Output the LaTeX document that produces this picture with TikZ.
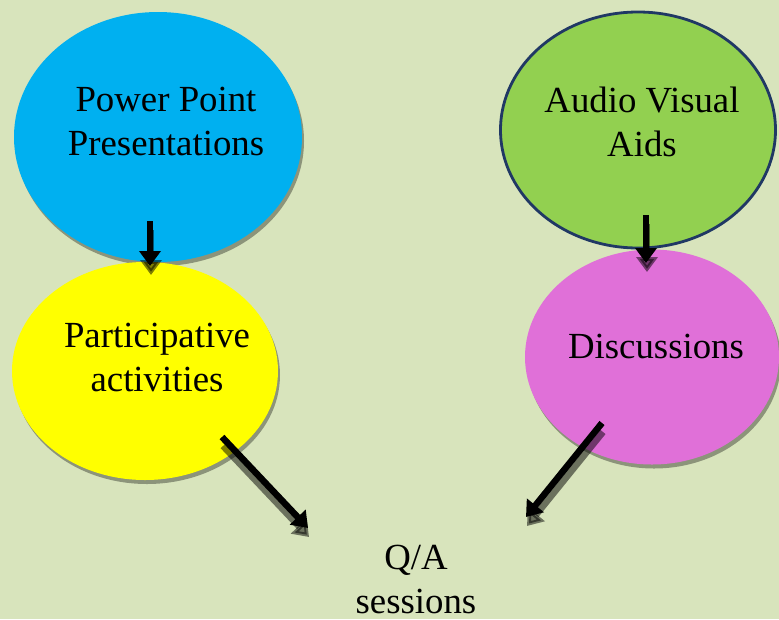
\documentclass[tikz,border=0pt]{standalone}
\usepackage{fontspec}
\setmainfont{Liberation Serif}
\usetikzlibrary{shapes.geometric,arrows.meta,shadows}
\definecolor{bg}{HTML}{D8E4BC}
\definecolor{ppblue}{HTML}{00B0F0}
\definecolor{pyellow}{HTML}{FFFF00}
\definecolor{avgreen}{HTML}{92D050}
\definecolor{avborder}{HTML}{203864}
\definecolor{dmagenta}{HTML}{E070D8}
\begin{document}
\begin{tikzpicture}[x=1pt,y=-1pt,
  bubble/.style={ellipse, inner sep=0pt,
    drop shadow={shadow xshift=2pt,shadow yshift=-4pt,opacity=0.35,fill=black}},
  lbl/.style={font=\fontsize{36.8}{44}\selectfont, align=center, inner sep=0pt, anchor=base},
  arr/.style={line width=6.5pt, -{Triangle[length=15pt,width=21pt]}},
  arrshadow/.style={line width=6.5pt, -{Triangle[length=15pt,width=21pt]}, black, opacity=0.5}]
\fill[bg] (0,0) rectangle (779,619);
\useasboundingbox (0,0) rectangle (779,619);
% ellipses
\node[bubble, fill=ppblue, minimum width=288pt, minimum height=250pt] (ppt) at (158,137) {};
\node[bubble, fill=pyellow, minimum width=266pt, minimum height=218pt] (part) at (145,371) {};
\node[bubble, fill=dmagenta, minimum width=254pt, minimum height=215pt] (disc) at (652,357) {};
\node[ellipse, inner sep=0pt, fill=avgreen, draw=avborder, line width=2.8pt,
      minimum width=275pt, minimum height=236pt] (avaid) at (638,130) {};
% labels (anchor base = baseline of the last line)
\node[lbl] (tppt) at (166,155) {Power Point\\Presentations};
\node[lbl] (tav) at (642,156) {Audio Visual\\Aids};
\node[lbl] (tpart) at (157,391) {Participative\\activities};
\node[lbl] (tdisc) at (656,358) {Discussions};
\node[lbl] (tqa) at (416,613) {Q/A\\sessions};
% arrow end points
\coordinate (a1s) at (150,221);
\coordinate (a1e) at (150,266);
\coordinate (a2s) at (646,215);
\coordinate (a2e) at (646,263);
\coordinate (a3s) at (222,437);
\coordinate (a3e) at (308,528);
\coordinate (a4s) at (602,423);
\coordinate (a4e) at (526,517);
% arrow shadows
\begin{scope}[transform canvas={xshift=1pt,yshift=-9pt}]
  \draw[arrshadow] (a1s) -- (a1e);
  \draw[arrshadow] (a2s) -- (a2e);
  \draw[arrshadow] (a3s) -- (a3e);
  \draw[arrshadow] (a4s) -- (a4e);
\end{scope}
% arrows
\draw[arr] (a1s) -- (a1e);
\draw[arr] (a2s) -- (a2e);
\draw[arr] (a3s) -- (a3e);
\draw[arr] (a4s) -- (a4e);
\end{tikzpicture}
\end{document}
